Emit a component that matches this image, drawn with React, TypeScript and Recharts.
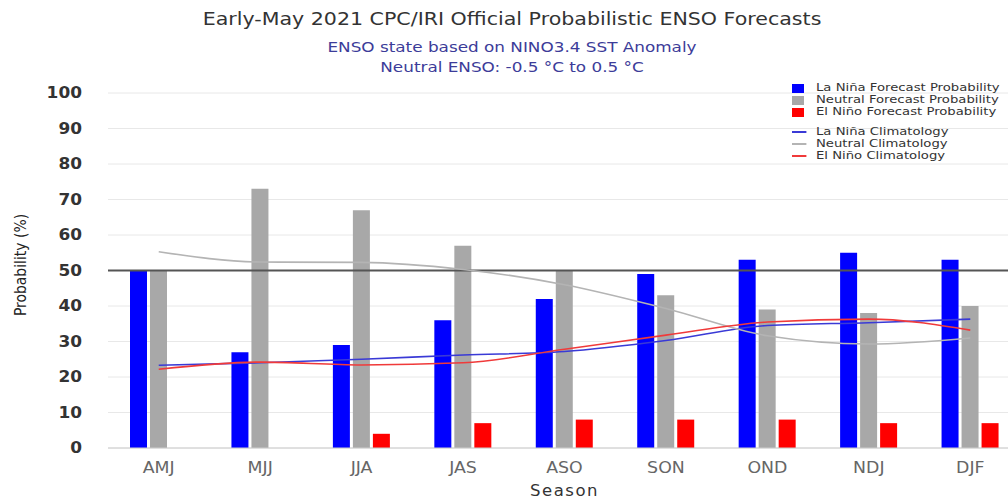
import React from 'react';
import { ComposedChart, Bar, Line, XAxis, YAxis, CartesianGrid, ReferenceLine } from 'recharts';

const seasons = ['AMJ', 'MJJ', 'JJA', 'JAS', 'ASO', 'SON', 'OND', 'NDJ', 'DJF'];
const laNinaProb = [50, 27, 29, 36, 42, 49, 53, 55, 53];
const neutralProb = [50, 73, 67, 57, 50, 43, 39, 38, 40];
const elNinoProb = [0, 0, 4, 7, 8, 8, 8, 7, 7];
const laNinaClim = [23.3, 24.0, 25.0, 26.2, 27.2, 30.3, 34.5, 35.3, 36.3];
const neutralClim = [55.3, 52.4, 52.3, 50.3, 46.0, 39.3, 31.6, 29.3, 31.0];
const elNinoClim = [22.2, 24.2, 23.4, 24.0, 27.8, 31.8, 35.5, 36.3, 33.2];
const yTicks = [0, 10, 20, 30, 40, 50, 60, 70, 80, 90, 100];

const titleText = 'Early-May 2021 CPC/IRI Official Probabilistic ENSO Forecasts';
const subtitle1 = 'ENSO state based on NINO3.4 SST Anomaly';
const subtitle2 = 'Neutral ENSO: -0.5 °C to 0.5 °C';
const xAxisTitle = 'Season';
const yAxisTitle = 'Probability (%)';

const barSeries = [
  { key: 'laNinaProb', name: 'La Niña Forecast Probability', color: '#0000ff' },
  { key: 'neutralProb', name: 'Neutral Forecast Probability', color: '#a8a8a8' },
  { key: 'elNinoProb', name: 'El Niño Forecast Probability', color: '#ff0000' },
];
const lineSeries = [
  { key: 'laNinaClim', name: 'La Niña Climatology', color: '#3a3ad6' },
  { key: 'neutralClim', name: 'Neutral Climatology', color: '#b4b4b4' },
  { key: 'elNinoClim', name: 'El Niño Climatology', color: '#f03a3a' },
];

const data = seasons.map((s, i) => ({
  season: s,
  laNinaProb: laNinaProb[i],
  neutralProb: neutralProb[i],
  elNinoProb: elNinoProb[i],
  laNinaClim: laNinaClim[i],
  neutralClim: neutralClim[i],
  elNinoClim: elNinoClim[i],
}));

const FONT = '"DejaVu Sans", Verdana, sans-serif';
const STRETCH = 1.2;

const LegendBox = () => (
  <div
    style={{
      position: 'absolute',
      left: 792,
      top: 82,
      fontFamily: FONT,
      fontSize: 11,
      color: '#333',
      lineHeight: '12px',
      transform: `scaleX(${STRETCH})`,
      transformOrigin: '0 0',
      whiteSpace: 'nowrap',
    }}
  >
    {barSeries.map((b) => (
      <div key={b.key} style={{ display: 'flex', alignItems: 'center', height: 12 }}>
        <span style={{ display: 'inline-block', width: 10, height: 9, background: b.color, marginRight: 10 }} />
        <span>{b.name}</span>
      </div>
    ))}
    <div style={{ height: 8 }} />
    {lineSeries.map((l) => (
      <div key={l.key} style={{ display: 'flex', alignItems: 'center', height: 12 }}>
        <span style={{ display: 'inline-block', width: 12, height: 2, background: l.color, marginRight: 8 }} />
        <span>{l.name}</span>
      </div>
    ))}
  </div>
);

const YLabel = () => {
  const cx = 21;
  const cy = 265;
  return (
    <text
      x={cx}
      y={cy}
      transform={`rotate(-90 ${cx} ${cy})`}
      textAnchor="middle"
      dominantBaseline="central"
      style={{ fontFamily: '"Liberation Sans Narrow", "DejaVu Sans Condensed", sans-serif', fontSize: 15.5, fill: '#222' }}
    >
      {yAxisTitle}
    </text>
  );
};

const YTick = (props: any) => {
  const { x, y, payload } = props;
  return (
    <text
      x={x}
      y={y}
      textAnchor="end"
      dominantBaseline="central"
      transform={`translate(${x} ${y}) scale(1.13 1) translate(${-x} ${-y})`}
      style={{ fontFamily: FONT, fontSize: 15, fontWeight: 'bold', fill: '#333' }}
    >
      {payload.value}
    </text>
  );
};

const XTick = (props: any) => {
  const { x, y, payload } = props;
  return (
    <text
      x={x}
      y={y}
      dy="0.71em"
      textAnchor="middle"
      transform={`translate(${x} ${y}) scale(1.12 1) translate(${-x} ${-y})`}
      style={{ fontFamily: FONT, fontSize: 15.5, fill: '#666' }}
    >
      {payload.value}
    </text>
  );
};

export default function App() {
  return (
    <div style={{ position: 'fixed', left: 0, top: 0, width: 1008, height: 500, overflow: 'hidden', background: '#fff' }}>
      <div
        style={{
          position: 'absolute',
          left: 0,
          top: 9,
          width: 1024,
          textAlign: 'center',
          fontFamily: FONT,
          fontSize: 17,
          color: '#333',
          transform: 'scaleX(1.21)',
          transformOrigin: '512px 0',
          whiteSpace: 'nowrap',
        }}
      >
        {titleText}
      </div>
      <div
        style={{
          position: 'absolute',
          left: 0,
          top: 37,
          width: 1024,
          textAlign: 'center',
          fontFamily: FONT,
          fontSize: 14.5,
          color: '#3c3c99',
          lineHeight: '20px',
          transform: 'scaleX(1.16)',
          transformOrigin: '512px 0',
          whiteSpace: 'nowrap',
        }}
      >
        <div>{subtitle1}</div>
        <div>{subtitle2}</div>
      </div>
      <ComposedChart
        width={1040}
        height={500}
        data={data}
        margin={{ top: 93, right: 19, bottom: 22, left: 0 }}
        barSize={17}
        barGap={3}
        style={{ position: 'absolute', left: 0, top: 0 }}
      >
        <CartesianGrid horizontal vertical={false} stroke="#e8e8e8" strokeWidth={1} />
        <XAxis
          dataKey="season"
          height={30}
          tickLine={false}
          axisLine={{ stroke: '#cccccc' }}
          tickMargin={8}
          tick={<XTick />}
          label={{ value: xAxisTitle, position: 'insideBottom', offset: -18, style: { fontFamily: FONT, fontSize: 16.5, fill: '#333', letterSpacing: 1.5 } }}
          interval={0}
        />
        <YAxis
          width={108}
          domain={[0, 100]}
          ticks={yTicks}
          interval={0}
          axisLine={false}
          tickLine={false}
          tickMargin={20}
          tick={<YTick />}
          label={<YLabel />}
        />
        <ReferenceLine y={50} stroke="#555" strokeWidth={2} />
        {barSeries.map((b) => (
          <Bar key={b.key} dataKey={b.key} name={b.name} fill={b.color} isAnimationActive={false} />
        ))}
        {lineSeries.map((l) => (
          <Line
            key={l.key}
            dataKey={l.key}
            name={l.name}
            type="monotone"
            stroke={l.color}
            strokeWidth={1.6}
            dot={false}
            activeDot={false}
            isAnimationActive={false}
          />
        ))}
      </ComposedChart>
      <LegendBox />
    </div>
  );
}
